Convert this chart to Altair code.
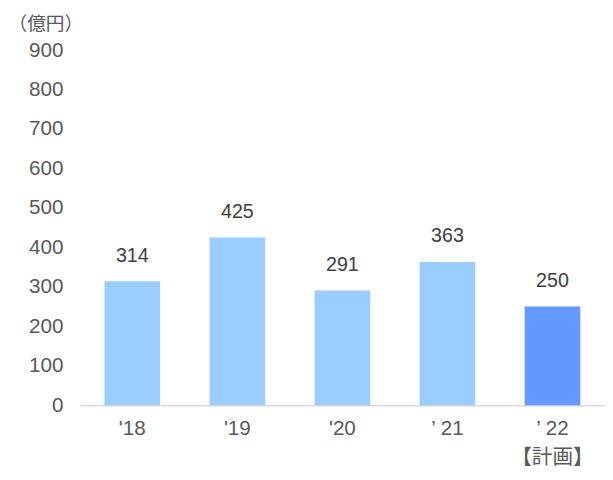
import altair as alt
import pandas as pd

years = ["'18", "'19", "'20", "’ 21", "’ 22"]
values = [314, 425, 291, 363, 250]
colors = ["#99CCFF", "#99CCFF", "#99CCFF", "#99CCFF", "#6699FF"]

df = pd.DataFrame({"year": years, "value": values, "color": colors})

FONT = "Liberation Sans, Noto Sans CJK JP, sans-serif"

x = alt.X(
    "year:N",
    sort=years,
    scale=alt.Scale(paddingInner=0.47, paddingOuter=0.235),
    axis=alt.Axis(
        title=None,
        labelAngle=0,
        labelFont=FONT,
        labelFontSize=21,
        labelColor="#595959",
        labelPadding=13,
        labelLineHeight=29,
        labelExpr="datum.value == '’ 22' ? ['’ 22', '【計画】'] : datum.value",
        ticks=False,
        domainColor="#D9D9D9",
        domainWidth=1.5,
    ),
)

y = alt.Y(
    "value:Q",
    scale=alt.Scale(domain=[0, 900], nice=False),
    axis=alt.Axis(
        values=list(range(0, 1000, 100)),
        title="（億円）",
        titleAngle=0,
        titleX=-73,
        titleY=-27,
        titleAlign="left",
        titleBaseline="middle",
        titleFont="Noto Sans CJK JP, sans-serif",
        titleFontSize=19,
        titleFontWeight="normal",
        titleColor="#595959",
        labelFont=FONT,
        labelFontSize=21,
        labelColor="#595959",
        labelPadding=17,
        ticks=False,
        domain=False,
        grid=False,
    ),
)

bars = alt.Chart(df).mark_bar().encode(
    x=x,
    y=y,
    color=alt.Color("color:N", scale=None),
)

labels = alt.Chart(df).mark_text(
    dy=-26, baseline="middle", fontSize=20, font=FONT, color="#404040"
).encode(x=alt.X("year:N", sort=years), y="value:Q", text="value:Q")

chart = (
    alt.layer(bars, labels)
    .properties(
        width=534,
        height=361,
        background="white",
        autosize=alt.AutoSizeParams(type="none"),
        padding={"left": 73, "top": 39, "right": 0, "bottom": 64},
    )
    .configure_view(stroke=None, strokeWidth=0)
)

chart.save("out.html", embed_options={"renderer": "svg", "actions": False})
